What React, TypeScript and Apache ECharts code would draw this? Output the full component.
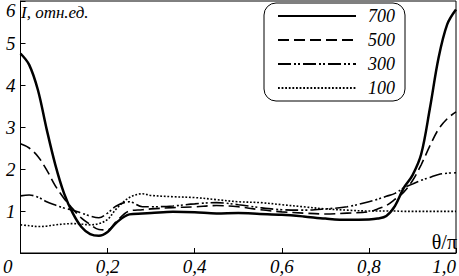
import React, { useEffect, useRef } from "react";
import * as echarts from "echarts";

const theta = [0, 0.02, 0.04, 0.06, 0.08, 0.1, 0.12, 0.14, 0.16, 0.18, 0.2, 0.22, 0.25, 0.28, 0.3, 0.35, 0.4, 0.45, 0.5, 0.55, 0.6, 0.65, 0.7, 0.75, 0.8, 0.82, 0.84, 0.86, 0.88, 0.9, 0.92, 0.94, 0.96, 0.98, 1.0];

const s700 = [4.75, 4.48, 3.88, 2.95, 2.1, 1.42, 0.95, 0.62, 0.45, 0.41, 0.5, 0.72, 0.92, 0.94, 0.95, 0.98, 0.97, 0.94, 0.95, 0.93, 0.91, 0.87, 0.82, 0.79, 0.8, 0.82, 0.88, 1.12, 1.55, 1.85, 2.35, 3.44, 4.65, 5.45, 5.8];
const s500 = [2.6, 2.5, 2.3, 1.98, 1.6, 1.3, 1.05, 0.83, 0.68, 0.56, 0.55, 0.75, 1.0, 1.03, 1.05, 1.08, 1.1, 1.13, 1.1, 1.03, 0.98, 0.95, 0.93, 0.95, 0.98, 1.05, 1.13, 1.28, 1.45, 1.72, 2.1, 2.55, 2.95, 3.2, 3.36];
const s300 = [1.36, 1.38, 1.33, 1.22, 1.14, 1.07, 1.02, 0.95, 0.88, 0.84, 0.95, 1.12, 1.22, 1.1, 1.1, 1.12, 1.17, 1.2, 1.15, 1.08, 1.03, 1.02, 1.05, 1.1, 1.22, 1.28, 1.35, 1.42, 1.55, 1.64, 1.73, 1.8, 1.87, 1.9, 1.91];
const s100 = [0.67, 0.65, 0.63, 0.64, 0.67, 0.69, 0.7, 0.69, 0.67, 0.7, 0.8, 1.05, 1.32, 1.41, 1.37, 1.34, 1.32, 1.27, 1.22, 1.2, 1.15, 1.1, 1.05, 1.02, 1.0, 1.0, 1.0, 1.0, 0.99, 0.99, 0.99, 0.99, 0.99, 0.99, 0.99];

const seriesNames = ["700", "500", "300", "100"];
const yTitle = "I, отн.ед.";
const xTitle = "θ/π";

const FONT = "Liberation Serif";

export default function App() {
  const ref = useRef<HTMLDivElement>(null);
  useEffect(() => {
    if (!ref.current) return;
    const chart = echarts.init(ref.current, undefined, { renderer: "svg" });
    const pair = (arr: number[]) => theta.map((t, i) => [t, arr[i]]);
    const common = { type: "line", symbol: "none", showSymbol: false, smooth: 0.35 };
    chart.setOption({
      animation: false,
      grid: {
        left: 16, right: 2, top: 1, bottom: 22,
        show: true, borderColor: "#000", borderWidth: 1,
      },
      legend: {
        orient: "vertical",
        left: 264, top: 3,
        padding: [4, 10, 4, 13],
        itemWidth: 78, itemHeight: 14, itemGap: 6,
        borderColor: "#000", borderWidth: 1, borderRadius: 12,
        data: seriesNames,
        itemStyle: { opacity: 0 },
        textStyle: {
          fontFamily: FONT, fontStyle: "italic", fontSize: 18, color: "#000",
          padding: [0, 0, 0, 7],
        },
      },
      xAxis: {
        type: "value", min: 0, max: 1, interval: 0.2,
        axisLine: { lineStyle: { color: "#000", width: 1 } },
        axisTick: { inside: true, length: 5, lineStyle: { color: "#000" } },
        splitLine: { show: false },
        axisLabel: {
          margin: 4,
          fontFamily: FONT, fontStyle: "italic", fontSize: 19, color: "#000",
          alignMinLabel: "right", alignMaxLabel: "right",
          formatter: (v: number) => (v === 0 ? "{z|0}" : v.toFixed(1).replace(".", ",")),
          rich: { z: { fontFamily: FONT, fontStyle: "italic", fontSize: 19, color: "#000", padding: [0, 8, 0, 0] } },
        },
      },
      yAxis: {
        type: "value", min: 0, max: 6, interval: 1,
        axisLine: { show: true, lineStyle: { color: "#000", width: 1 } },
        axisTick: { show: true, inside: true, length: 5, lineStyle: { color: "#000" } },
        splitLine: { show: false },
        axisLabel: {
          margin: 5,
          fontFamily: FONT, fontStyle: "italic", fontSize: 19, color: "#000",
          verticalAlignMaxLabel: "top",
          formatter: (v: number) => (v === 0 ? "" : String(v)),
        },
      },
      graphic: [
        {
          type: "text", left: 21, top: 4,
          style: { text: yTitle, fontFamily: FONT, fontStyle: "italic", fontSize: 17, fill: "#000" },
        },
        {
          type: "text", right: 2, top: 232,
          style: { text: xTitle, fontFamily: FONT, fontSize: 20, fill: "#000" },
        },
      ],
      series: [
        { ...common, name: "700", data: pair(s700), lineStyle: { color: "#000", width: 2.5, type: "solid" }, itemStyle: { color: "#000" } },
        { ...common, name: "500", data: pair(s500), lineStyle: { color: "#000", width: 1.6, type: [11, 5] }, itemStyle: { color: "#000" } },
        { ...common, name: "300", data: pair(s300), lineStyle: { color: "#000", width: 1.6, type: [13, 3, 2, 2, 2, 3] }, itemStyle: { color: "#000" } },
        { ...common, name: "100", data: pair(s100), lineStyle: { color: "#000", width: 1.6, type: [1.8, 1.8] }, itemStyle: { color: "#000" } },
      ],
    });
    return () => chart.dispose();
  }, []);
  return (
    <div
      ref={ref}
      style={{ position: "fixed", left: 0, top: 0, width: 459, height: 276, background: "#fff" }}
    />
  );
}
